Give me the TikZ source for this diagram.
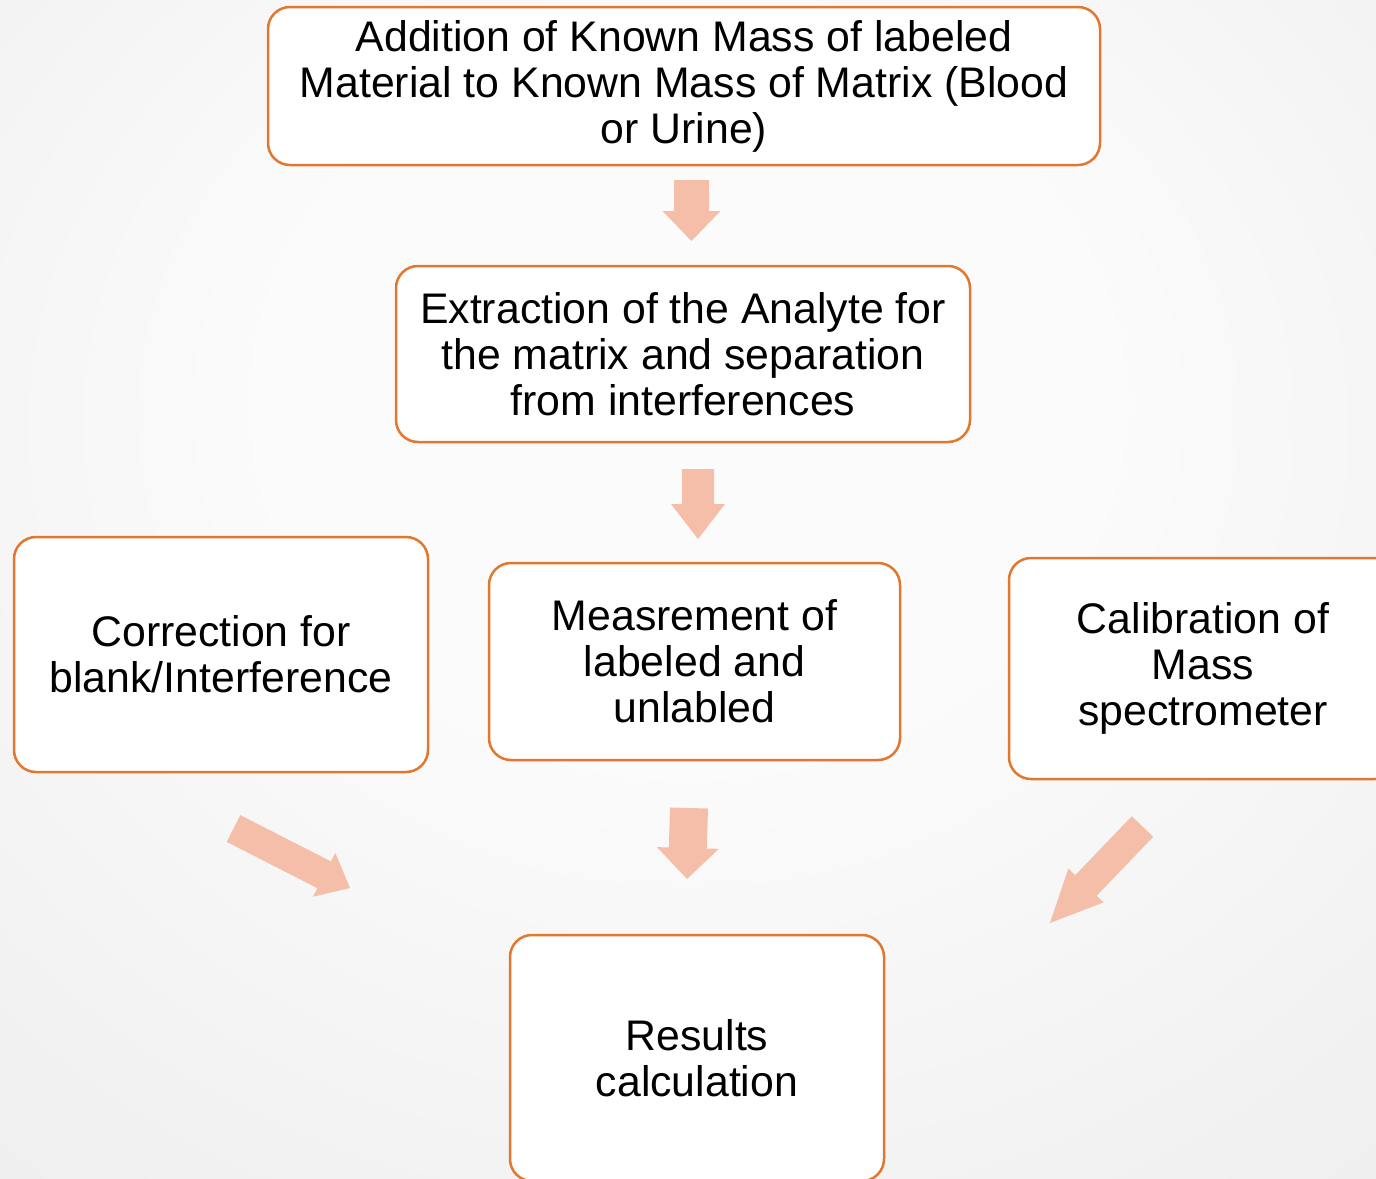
\documentclass[tikz,border=0pt]{standalone}
\usepackage{fontspec}
\setmainfont{Liberation Sans}
\definecolor{boxline}{HTML}{E2782F}
\definecolor{arrowfill}{HTML}{F4BEA9}
\definecolor{bgin}{HTML}{FBFBFB}
\definecolor{bgout}{HTML}{DDDDDF}
\pgfdeclareradialshading{bgshade}{\pgfpoint{0bp}{10bp}}{color(0bp)=(bgin); color(15bp)=(bgin); color(75bp)=(bgout)}
\newcommand\blockarrow[7]{%
  \fill[arrowfill, shift={(#1,#2)}, rotate=#3]
    (0,-#5) -- ({#4-#7},-#5) -- ({#4-#7},-#6) -- (#4,0) -- ({#4-#7},#6) -- ({#4-#7},#5) -- (0,#5) -- cycle;}
\begin{document}
\begin{tikzpicture}[x=1pt,y=-1pt,
  stepbox/.style={draw=boxline, line width=2.5pt, fill=white, rounded corners=22pt,
    inner sep=0pt, align=center, font=\fontsize{42.8}{46}\selectfont}]
\useasboundingbox (0,0) rectangle (1376,1178);
\clip (0,0) rectangle (1376,1178);
\shade[shading=bgshade] (0,0) rectangle (1376,1178);

\node[stepbox, minimum width=832pt, minimum height=158pt] (top) at (684,86)
  {Addition of Known Mass of labeled\\Material to Known Mass of Matrix (Blood\\or Urine)};
\node[stepbox, minimum width=574pt, minimum height=176pt] (extr) at (683,354)
  {Extraction of the Analyte for\\the matrix and separation\\from interferences};
\node[stepbox, minimum width=414pt, minimum height=235pt] (corr) at (221,654.5)
  {Correction for\\blank/Interference};
\node[stepbox, minimum width=411pt, minimum height=197pt] (meas) at (694.5,661.5)
  {Measrement of\\labeled and\\unlabled};
\node[stepbox, minimum width=388pt, minimum height=221pt] (calib) at (1203,668.5)
  {Calibration of\\Mass\\spectrometer};
\node[stepbox, minimum width=374pt, minimum height=246pt] (res) at (697,1058)
  {Results\\calculation};

\blockarrow{691.5}{180}{-90}{61}{17.5}{29}{30}
\blockarrow{698}{469}{-90}{70}{16}{27}{35}
\blockarrow{689}{808}{-91.6}{71}{19}{31}{31}
\blockarrow{233.5}{828.5}{-27.06}{130.8}{15}{24.6}{29}
\blockarrow{1142.5}{826.5}{-133.8}{133.7}{14.85}{24.4}{52}
\end{tikzpicture}
\end{document}
